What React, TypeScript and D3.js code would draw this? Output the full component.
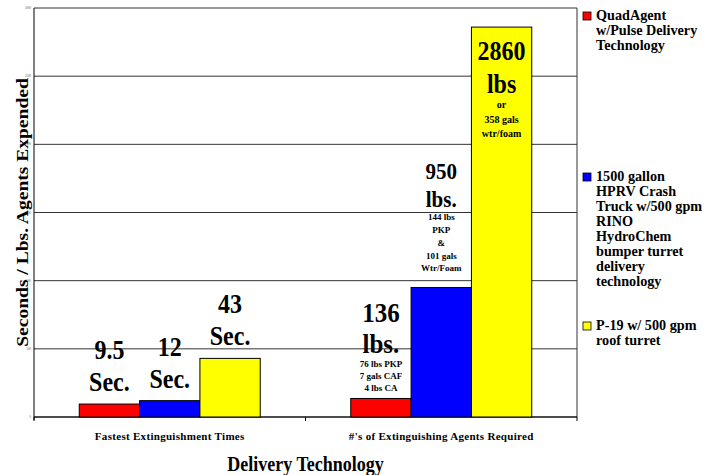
import React from "react";
import * as d3 from "d3";

// two groups: first group shows seconds (drawn x10 on the lbs scale), second lbs
const categories = ["Fastest Extinguishment Times", "#'s of Extinguishing Agents Required"];
const seriesKeys = ["quad", "hprv", "p19"];
const seriesColors = ["#ff0000", "#0000ff", "#ffff00"];

const quadValues = [95, 136];
const hprvValues = [120, 950];
const p19Values = [430, 2860];

const yTicks = [0, 500, 1000, 1500, 2000, 2500, 3000];

const quadLegend = ["QuadAgent", "w/Pulse Delivery", "Technology"];
const hprvLegend = ["1500 gallon", "HPRV Crash", "Truck w/500 gpm", "RINO", "HydroChem", "bumper turret", "delivery", "technology"];
const p19Legend = ["P-19 w/ 500 gpm", "roof turret"];

const quadBig = [["9.5", "Sec."], ["136", "lbs."]];
const hprvBig = [["12", "Sec."], ["950", "lbs."]];
const p19Big = [["43", "Sec."], ["2860", "lbs"]];
const quadSmall = [[], ["76 lbs PKP", "7 gals CAF", "4 lbs CA"]];
const hprvSmall = [[], ["144 lbs", "PKP", "&", "101 gals", "Wtr/Foam"]];
const p19Small = [[], ["or", "358 gals", "wtr/foam"]];

const W = 707;
const H = 475;
const margin = { top: 8, right: 130, bottom: 58, left: 34 };
const FONT = "'Liberation Serif', 'Times New Roman', serif";
const SY = 1.1; // the original text looks a bit stretched vertically

export default function App() {
  const values = [quadValues, hprvValues, p19Values];
  const bigLabels = [quadBig, hprvBig, p19Big];
  const smallLabels = [quadSmall, hprvSmall, p19Small];
  const legends = [quadLegend, hprvLegend, p19Legend];
  const legendY = [20, 181, 330];

  const x0 = d3.scaleBand().domain(categories).range([margin.left, W - margin.right]);
  const bw = x0.bandwidth();
  const x1 = d3.scaleBand().domain(seriesKeys).range([bw / 6, (bw * 5) / 6]);
  const y = d3.scaleLinear().domain([0, 3000]).range([H - margin.bottom, margin.top]);
  const y0 = y(0);

  // label layout per group / series
  const style = (ci: number, si: number) => {
    if (ci === 0) return { big: 24, step: 32, small: 9, sGap: 0, sStep: 0, gap: 13, inside: 0 };
    if (si === 0) return { big: 25, step: 31, small: 9, sGap: 14, sStep: 12, gap: 7.5, inside: 0 };
    if (si === 1) return { big: 21, step: 28, small: 9, sGap: 13, sStep: 12.8, gap: 16, inside: 0 };
    return { big: 24, step: 33, small: 10, sGap: 15, sStep: 14.5, gap: 0, inside: 33 };
  };

  const barLabel = (ci: number, si: number) => {
    const st = style(ci, si);
    const big = bigLabels[si][ci];
    const small = smallLabels[si][ci];
    const lines: { t: string; dy: number; size: number; sy: number }[] = [];
    let dy = 0;
    big.forEach((t, i) => {
      if (i > 0) dy += st.step;
      lines.push({ t, dy, size: st.big, sy: SY });
    });
    small.forEach((t, i) => {
      dy += i === 0 ? st.sGap : st.sStep;
      lines.push({ t, dy, size: st.small, sy: 1 });
    });
    const top = y(values[si][ci]);
    const first = st.inside ? top + st.inside : top - st.gap - dy;
    const cx = (x0(categories[ci]) as number) + (x1(seriesKeys[si]) as number) + x1.bandwidth() / 2;
    return lines.map((l, i) => (
      <text
        key={i}
        transform={`translate(${cx},${first + l.dy}) scale(1,${l.sy})`}
        textAnchor="middle"
        fontSize={l.size}
        fontWeight="bold"
      >
        {l.t}
      </text>
    ));
  };

  return (
    <svg width={W} height={H} style={{ position: "absolute", left: 0, top: 0, background: "#fff" }} fontFamily={FONT}>
      {/* grid */}
      {yTicks.map((t) => (
        <g key={t}>
          <line x1={margin.left} x2={W - margin.right} y1={y(t)} y2={y(t)} stroke="#333" strokeWidth={1} />
          <text x={margin.left - 3} y={y(t) + 1} textAnchor="end" fontSize={3} fill="#555">
            {t}
          </text>
        </g>
      ))}
      <line x1={W - margin.right} x2={W - margin.right} y1={margin.top} y2={y0} stroke="#333" />
      <line x1={margin.left} x2={margin.left} y1={margin.top} y2={y0 + 3} stroke="#000" />
      <line x1={margin.left} x2={W - margin.right} y1={y0} y2={y0} stroke="#000" />
      {[margin.left, margin.left + bw, W - margin.right].map((tx, i) => (
        <line key={i} x1={tx} x2={tx} y1={y0} y2={y0 + 4} stroke="#000" />
      ))}

      {/* bars */}
      {categories.map((c, ci) => (
        <g key={c} transform={`translate(${x0(c)},0)`}>
          {seriesKeys.map((k, si) => (
            <rect
              key={k}
              x={x1(k)}
              y={y(values[si][ci])}
              width={x1.bandwidth()}
              height={y0 - y(values[si][ci])}
              fill={seriesColors[si]}
              stroke="#000"
              strokeWidth={1}
            />
          ))}
        </g>
      ))}

      {categories.map((c, ci) => seriesKeys.map((k, si) => <g key={c + k}>{barLabel(ci, si)}</g>))}

      {/* category labels */}
      {categories.map((c) => (
        <text
          key={c}
          x={(x0(c) as number) + bw / 2}
          y={y0 + 23}
          textAnchor="middle"
          fontSize={11}
          fontWeight="bold"
          letterSpacing={0.3}
        >
          {c}
        </text>
      ))}

      <text
        transform={`translate(${(margin.left + W - margin.right) / 2},471) scale(1,${SY + 0.05})`}
        textAnchor="middle"
        fontSize={18}
        fontWeight="bold"
      >
        Delivery Technology
      </text>
      <text
        transform={`translate(28,${(margin.top + y0) / 2}) scale(1,${SY + 0.05}) rotate(-90)`}
        textAnchor="middle"
        fontSize={17}
        fontWeight="bold"
      >
        Seconds / Lbs. Agents Expended
      </text>

      {/* legend */}
      {legends.map((lines, si) => (
        <g key={si}>
          <rect x={583} y={legendY[si] - 8} width={8} height={8} fill={seriesColors[si]} stroke="#000" strokeWidth={0.8} />
          {lines.map((l, i) => (
            <text key={i} x={596} y={legendY[si] + i * 15} fontSize={14.2} fontWeight="bold">
              {l}
            </text>
          ))}
        </g>
      ))}
    </svg>
  );
}
